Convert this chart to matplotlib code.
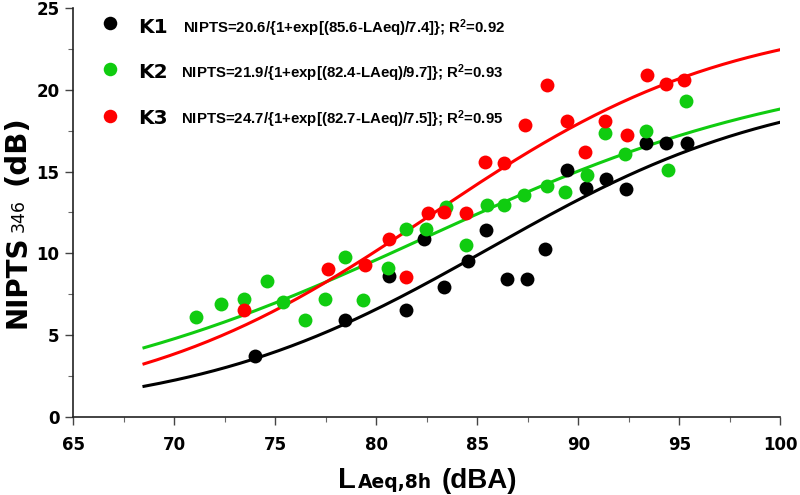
import matplotlib

matplotlib.use("Agg")
import matplotlib.pyplot as plt
import numpy as np

plt.rcParams["mathtext.fontset"] = "custom"
plt.rcParams["mathtext.rm"] = "Liberation Sans"
plt.rcParams["mathtext.default"] = "regular"

k1_x = [74.0, 78.45, 80.64, 81.47, 82.36, 83.35, 84.55, 85.42, 86.46, 87.45,
        88.33, 89.46, 90.38, 91.37, 92.36, 93.35, 94.34, 95.4]
k1_y = [3.7, 5.9, 8.64, 6.51, 10.89, 7.92, 9.52, 11.4, 8.44, 8.44,
        10.29, 15.1, 13.98, 14.53, 13.92, 16.77, 16.77, 16.77]

k2_x = [71.07, 72.3, 73.47, 74.57, 75.37, 76.47, 77.48, 78.45, 79.36, 80.56,
        81.47, 82.46, 83.45, 84.44, 85.47, 86.34, 87.31, 88.44, 89.34, 90.45,
        91.32, 92.31, 93.35, 94.43, 95.35]
k2_y = [6.1, 6.9, 7.2, 8.33, 7.0, 5.92, 7.2, 9.8, 7.13, 9.11,
        11.5, 11.5, 12.85, 10.5, 12.96, 12.96, 13.57, 14.1, 13.77, 14.79,
        17.34, 16.08, 17.5, 15.1, 19.34]

k3_x = [73.47, 77.6, 79.45, 80.64, 81.47, 82.55, 83.35, 84.44, 85.38, 86.34,
        87.36, 88.44, 89.46, 90.33, 91.32, 92.4, 93.39, 94.34, 95.25]
k3_y = [6.55, 9.04, 9.31, 10.85, 8.56, 12.44, 12.52, 12.44, 15.6, 15.5,
        17.85, 20.3, 18.11, 16.22, 18.11, 17.24, 20.91, 20.36, 20.6]

# fitted logistic parameters: NIPTS = a / (1 + exp((x0 - LAeq) / k))
fit_a = [20.6, 21.9, 24.7]
fit_x0 = [85.6, 82.4, 82.7]
fit_k = [7.4, 9.7, 7.5]
fit_r2 = ["0.92", "0.93", "0.95"]
fit_range = [68.5, 100.0]

group_names = ["K1", "K2", "K3"]
colors = ["#000000", "#10cc10", "#ff0000"]

x_ticks = [65, 70, 75, 80, 85, 90, 95, 100]
y_ticks = [0, 5, 10, 15, 20, 25]


def logistic(x, a, x0, k):
    return a / (1 + np.exp((x0 - x) / k))


def px(x, y):
    # pixel position in the 800x495 picture -> figure fraction
    return x / 800, 1 - y / 495


fig = plt.figure(figsize=(8, 4.95), dpi=100)
ax = fig.add_axes([0.0916, 0.1582, 0.8838, 0.8252])

xs = np.linspace(fit_range[0], fit_range[1], 200)
for a, x0, k, c in zip(fit_a, fit_x0, fit_k, colors):
    ax.plot(xs, logistic(xs, a, x0, k), color=c, lw=2.2, zorder=2)

for gx, gy, c in zip([k1_x, k2_x, k3_x], [k1_y, k2_y, k3_y], colors):
    ax.scatter(gx, gy, s=100, color=c, linewidths=0, zorder=3)

ax.set_xlim(65, 100)
ax.set_ylim(0, 25)
ax.set_xticks(x_ticks)
ax.set_yticks(y_ticks)
ax.set_xticks(np.arange(67.5, 100, 5), minor=True)
ax.set_yticks(np.arange(2.5, 25, 5), minor=True)
ax.spines["top"].set_visible(False)
ax.spines["right"].set_visible(False)
for side in ["left", "bottom"]:
    ax.spines[side].set_linewidth(1.2)
    ax.spines[side].set_color("#222222")
ax.tick_params(which="major", length=6, width=1.0, color="#444444")
ax.tick_params(which="minor", length=3.5, width=0.8, color="#666666")
ax.tick_params(axis="x", which="major", pad=8)
ax.tick_params(axis="y", which="major", pad=4)
for lab in ax.get_xticklabels() + ax.get_yticklabels():
    lab.set_fontfamily("DejaVu Sans")
    lab.set_fontweight("bold")
    lab.set_fontsize(12)

# legend, drawn by hand (marker, bold group name, fitted equation)
dot_y = [0.963, 0.8504, 0.7369]
base_y = [0.9405, 0.8284, 0.7165]
eq_x = [0.1556, 0.1519, 0.1519]
for i in range(3):
    ax.scatter([0.0519], [dot_y[i]], s=95, color=colors[i], linewidths=0,
               transform=ax.transAxes, clip_on=False, zorder=4)
    ax.text(0.0911, base_y[i], group_names[i], transform=ax.transAxes,
            fontfamily="DejaVu Sans", fontweight="bold", fontsize=14.5,
            va="baseline", ha="left")
    eq = (f"NIPTS={fit_a[i]}/{{1+exp[({fit_x0[i]}-LAeq)/{fit_k[i]}]}}; "
          f"R$^2$={fit_r2[i]}")
    ax.text(eq_x[i], base_y[i], eq, transform=ax.transAxes,
            fontfamily="Liberation Sans", fontweight="bold", fontsize=10.8,
            va="baseline", ha="left")

# y label in pieces, subscript sits on the baseline
ylab = dict(rotation=90, rotation_mode="anchor", ha="left", va="baseline",
            fontfamily="DejaVu Sans")
fig.text(*px(25, 328), "NIPTS", fontweight="bold", fontsize=20, **ylab)
fig.text(*px(24, 232.5), "346", fontsize=12.5, **ylab)
fig.text(*px(25, 184.5), "(dB)", fontweight="bold", fontsize=21, **ylab)

# x label in pieces too
xlab = dict(va="baseline", ha="left", fontweight="bold")
fig.text(*px(337.7, 488.3), "L", fontfamily="Liberation Sans", fontsize=21,
         **xlab)
fig.text(*px(358, 488.3), "Aeq,8h", fontfamily="DejaVu Sans", fontsize=13.5,
         **xlab)
fig.text(*px(441.7, 488.3), "(dBA)", fontfamily="Liberation Sans",
         fontsize=20, **xlab)

fig.savefig("out.png", dpi=100)
